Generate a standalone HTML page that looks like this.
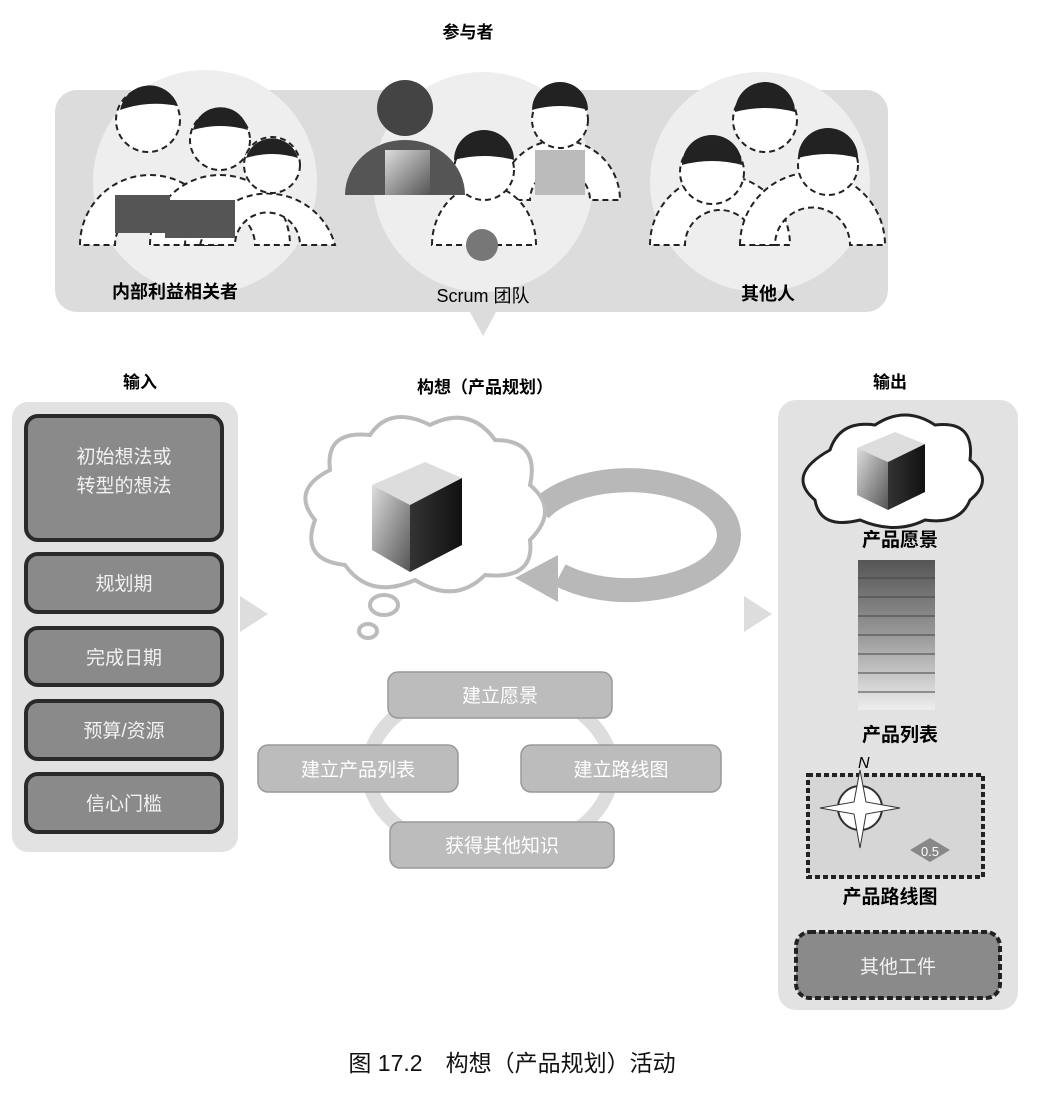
<!DOCTYPE html>
<html><head><meta charset="utf-8"><style>
body{margin:0;background:#fff}
svg{display:block}
text{font-family:"Liberation Sans","Noto Sans CJK SC",sans-serif}
</style></head><body>
<svg width="1040" height="1104" viewBox="0 0 1040 1104">
<defs>
<linearGradient id="cf" x1="0" y1="0" x2="1" y2="1"><stop offset="0" stop-color="#ddd"/><stop offset="1" stop-color="#555"/></linearGradient>
<linearGradient id="cs" x1="0" y1="0" x2="1" y2="0"><stop offset="0" stop-color="#333"/><stop offset="1" stop-color="#111"/></linearGradient>
<linearGradient id="st" x1="0" y1="0" x2="0" y2="1"><stop offset="0" stop-color="#555"/><stop offset="0.5" stop-color="#999"/><stop offset="1" stop-color="#eee"/></linearGradient>
</defs>
<text x="468" y="38" font-size="17" font-weight="bold" text-anchor="middle">参与者</text>
<rect x="55" y="90" width="833" height="222" rx="22" fill="#dcdcdc"/>
<polygon points="470,312 496,312 483,336" fill="#dcdcdc"/>
<circle cx="205" cy="182" r="112" fill="#eee"/>
<circle cx="483" cy="182" r="110" fill="#eee"/>
<circle cx="760" cy="182" r="110" fill="#eee"/>
<g fill="#fff" stroke="#222" stroke-width="2" stroke-dasharray="6,4">
<path d="M80,245 a70,70 0 0 1 140,0 h-35 a35,35 0 0 0 -70,0z"/>
<circle cx="148" cy="120" r="32"/>
<path d="M150,245 a70,70 0 0 1 140,0 h-35 a35,35 0 0 0 -70,0z"/>
<circle cx="220" cy="140" r="30"/>
<path d="M200,245 a70,70 0 0 1 135,0 h-35 a32,32 0 0 0 -65,0z"/>
<circle cx="272" cy="165" r="28"/>
<path d="M650,245 a70,70 0 0 1 140,0 h-35 a35,35 0 0 0 -70,0z"/>
<circle cx="712" cy="172" r="32"/>
<circle cx="765" cy="120" r="32"/>
<path d="M740,245 a70,70 0 0 1 145,0 h-35 a36,36 0 0 0 -75,0z"/>
<circle cx="828" cy="165" r="30"/>
<path d="M500,200 a60,60 0 0 1 120,0 h-30 a30,30 0 0 0 -60,0z"/>
<circle cx="560" cy="120" r="28"/>
<path d="M432,245 a52,60 0 0 1 104,0z"/>
<circle cx="484" cy="170" r="30"/>
</g>
<g fill="#222">
<path d="M120,110 a30,30 0 0 1 58,-4 q-30,-6 -58,4z"/>
<path d="M193,130 a28,28 0 0 1 55,0 q-28,-8 -55,0z"/>
<path d="M246,158 a27,27 0 0 1 52,0 q-26,-8 -52,0z"/>
<path d="M682,165 a30,30 0 0 1 60,0 q-30,-8 -60,0z"/>
<path d="M735,112 a30,30 0 0 1 60,0 q-30,-8 -60,0z"/>
<path d="M798,158 a30,30 0 0 1 60,0 q-30,-8 -60,0z"/>
<path d="M532,110 a28,28 0 0 1 56,0 q-28,-8 -56,0z"/>
<path d="M454,160 a30,30 0 0 1 60,0 q-30,-8 -60,0z"/>
</g>
<g fill="#555"><rect x="115" y="195" width="55" height="38"/><rect x="165" y="200" width="70" height="38"/></g>
<circle cx="405" cy="108" r="28" fill="#444"/>
<path d="M345,195 a60,55 0 0 1 120,0z" fill="#555"/>
<rect x="385" y="150" width="45" height="45" fill="url(#cf)"/>
<rect x="535" y="150" width="50" height="45" fill="#bbb"/>
<circle cx="482" cy="245" r="16" fill="#777"/>
<text x="175" y="298" font-size="18" font-weight="bold" text-anchor="middle">内部利益相关者</text>
<text x="483" y="302" font-size="18" text-anchor="middle">Scrum 团队</text>
<text x="768" y="300" font-size="18" font-weight="bold" text-anchor="middle">其他人</text>
<text x="140" y="388" font-size="17" font-weight="bold" text-anchor="middle">输入</text>
<text x="485" y="393" font-size="17" font-weight="bold" text-anchor="middle">构想（产品规划）</text>
<text x="890" y="388" font-size="17" font-weight="bold" text-anchor="middle">输出</text>
<rect x="12" y="402" width="226" height="450" rx="16" fill="#e2e2e2"/>
<g fill="#8a8a8a" stroke="#2a2a2a" stroke-width="4">
<rect x="26" y="416" width="196" height="124" rx="12"/>
<rect x="26" y="554" width="196" height="58" rx="12"/>
<rect x="26" y="628" width="196" height="57" rx="12"/>
<rect x="26" y="701" width="196" height="58" rx="12"/>
<rect x="26" y="774" width="196" height="58" rx="12"/>
</g>
<g fill="#f2f2f2" font-size="19" text-anchor="middle">
<text x="124" y="463">初始想法或</text><text x="124" y="492">转型的想法</text>
<text x="124" y="590">规划期</text><text x="124" y="664">完成日期</text>
<text x="124" y="737">预算/资源</text><text x="124" y="810">信心门槛</text>
</g>
<polygon points="240,596 268,614 240,632" fill="#ddd"/>
<polygon points="744,596 772,614 744,632" fill="#ddd"/>
<!-- ring arrow -->
<path d="M540,510 A100,55 0 1 1 560,575" fill="none" stroke="#b8b8b8" stroke-width="24"/>
<polygon points="515,578 558,555 558,602" fill="#b8b8b8"/>
<!-- cloud -->
<g fill="#fff" stroke="#bbb" stroke-width="4">
<path d="M330,470 q-5,-40 40,-35 q20,-30 60,-10 q40,-20 65,15 q45,0 35,45 q30,25 0,55 q5,40 -45,35 q-30,30 -70,5 q-45,20 -70,-15 q-45,-5 -30,-45 q-25,-30 15,-50z"/>
<ellipse cx="384" cy="605" rx="14" ry="10"/>
<ellipse cx="368" cy="631" rx="9" ry="7"/>
</g>
<polygon points="372,485 425,462 462,478 410,505" fill="#ddd"/>
<polygon points="372,485 410,505 410,572 372,550" fill="url(#cf)"/>
<polygon points="410,505 462,478 462,545 410,572" fill="url(#cs)"/>
<ellipse cx="490" cy="770" rx="122" ry="85" fill="none" stroke="#ddd" stroke-width="14"/>
<g fill="#bcbcbc" stroke="#999" stroke-width="1.5">
<rect x="388" y="672" width="224" height="46" rx="10"/>
<rect x="258" y="745" width="200" height="47" rx="10"/>
<rect x="521" y="745" width="200" height="47" rx="10"/>
<rect x="390" y="822" width="224" height="46" rx="10"/>
</g>
<g fill="#fff" font-size="19" text-anchor="middle">
<text x="500" y="702">建立愿景</text><text x="358" y="776">建立产品列表</text>
<text x="621" y="776">建立路线图</text><text x="502" y="852">获得其他知识</text>
</g>
<rect x="778" y="400" width="240" height="610" rx="18" fill="#e2e2e2"/>
<path d="M830,450 q10,-30 45,-25 q30,-20 60,0 q40,-5 35,35 q25,20 0,40 q-10,25 -45,20 q-30,15 -65,0 q-40,10 -45,-20 q-30,-25 15,-50z" fill="#fff" stroke="#222" stroke-width="3"/>
<polygon points="857,448 895,432 925,444 888,462" fill="#ddd"/>
<polygon points="857,448 888,462 888,510 857,495" fill="url(#cf)"/>
<polygon points="888,462 925,444 925,492 888,510" fill="url(#cs)"/>
<text x="900" y="546" font-size="19" font-weight="bold" text-anchor="middle">产品愿景</text>
<rect x="858" y="560" width="77" height="150" fill="url(#st)"/>
<g stroke="#444" stroke-width="1"><line x1="858" y1="578" x2="935" y2="578"/><line x1="858" y1="597" x2="935" y2="597"/><line x1="858" y1="616" x2="935" y2="616"/><line x1="858" y1="635" x2="935" y2="635"/><line x1="858" y1="654" x2="935" y2="654"/><line x1="858" y1="673" x2="935" y2="673"/><line x1="858" y1="692" x2="935" y2="692"/></g>
<text x="900" y="741" font-size="19" font-weight="bold" text-anchor="middle">产品列表</text>
<text x="858" y="768" font-size="16" font-style="italic" font-family="Liberation Serif">N</text>
<rect x="808" y="775" width="175" height="102" fill="#d6d6d6" stroke="#222" stroke-width="4" stroke-dasharray="5,3"/>
<circle cx="860" cy="808" r="22" fill="#fff" stroke="#333" stroke-width="2"/>
<polygon points="860,770 866,802 900,808 866,814 860,848 854,814 820,808 854,802" fill="#fff" stroke="#333"/>
<polygon points="910,850 930,838 950,850 930,862" fill="#888"/>
<text x="930" y="856" font-size="13" fill="#fff" text-anchor="middle">0.5</text>
<text x="890" y="903" font-size="19" font-weight="bold" text-anchor="middle">产品路线图</text>
<rect x="796" y="932" width="204" height="66" rx="14" fill="#8a8a8a" stroke="#222" stroke-width="4" stroke-dasharray="6,3"/>
<text x="898" y="973" font-size="19" fill="#f2f2f2" text-anchor="middle">其他工件</text>
<text x="512" y="1071" font-size="23" text-anchor="middle" fill="#111">图 17.2　构想（产品规划）活动</text>
</svg>
</body></html>
